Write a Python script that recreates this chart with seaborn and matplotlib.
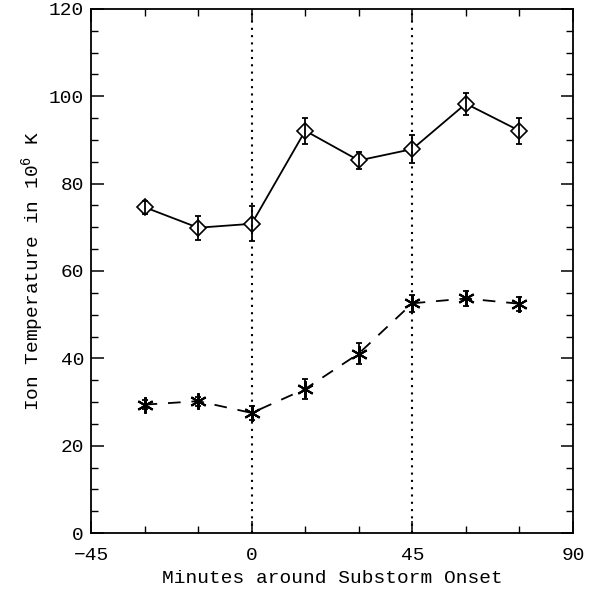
import matplotlib
matplotlib.use("Agg")
import matplotlib.pyplot as plt
from matplotlib.ticker import MultipleLocator
import seaborn as sns
import pandas as pd

minutes = [-30, -15, 0, 15, 30, 45, 60, 75]
upper_temp = [74.6, 69.9, 70.8, 92.1, 85.3, 87.9, 98.3, 92.1]
upper_err = [1.5, 2.7, 4.0, 3.0, 2.0, 3.2, 2.5, 3.0]
lower_temp = [29.4, 30.2, 27.5, 33.0, 41.1, 52.6, 53.7, 52.5]
lower_err = [1.0, 1.0, 1.5, 2.2, 2.4, 1.9, 1.7, 1.6]
onset_lines = [0, 45]
x_ticks = [-45, 0, 45, 90]
x_ticklabels = ["\u221245", "0", "45", "90"]

sns.set_theme(style="ticks")
plt.rcParams['font.family'] = ['Liberation Mono', 'DejaVu Sans']
plt.rcParams['mathtext.fontset'] = 'custom'
plt.rcParams['mathtext.rm'] = 'Liberation Mono'

fig = plt.figure(figsize=(5.95, 5.91), dpi=100)
ax = fig.add_axes([0.153, 0.098, 0.810, 0.887])

df_u = pd.DataFrame({"x": minutes, "y": upper_temp})
df_l = pd.DataFrame({"x": minutes, "y": lower_temp})

sns.lineplot(data=df_u, x="x", y="y", ax=ax, color="black", linewidth=1.3,
             marker="D", markersize=8, markerfacecolor="white",
             markeredgecolor="black", markeredgewidth=1.2)
sns.lineplot(data=df_l, x="x", y="y", ax=ax, color="black", linewidth=1.3,
             linestyle=(0, (7, 6)), marker=(6, 2, 0), markersize=12,
             markeredgecolor="black", markeredgewidth=1.5)

ax.errorbar(minutes, upper_temp, yerr=upper_err, fmt="none", ecolor="black",
            elinewidth=1.3, capsize=2.5, capthick=1.3)
ax.errorbar(minutes, lower_temp, yerr=lower_err, fmt="none", ecolor="black",
            elinewidth=1.3, capsize=2.5, capthick=1.3)

for xv in onset_lines:
    ax.axvline(xv, color="black", linestyle=(0, (1, 2.5)), linewidth=1.5)

ax.set_xlim(-45, 90)
ax.set_ylim(0, 120)
ax.set_xticks(x_ticks, x_ticklabels)
ax.xaxis.set_minor_locator(MultipleLocator(15))
ax.yaxis.set_major_locator(MultipleLocator(20))
ax.yaxis.set_minor_locator(MultipleLocator(5))
ax.tick_params(which="both", direction="in", top=True, right=True,
               colors="black", labelsize=14)
ax.tick_params(which="major", length=9, width=1.1)
ax.tick_params(axis="x", which="major", pad=10)
ax.tick_params(axis="y", which="major", pad=5)
ax.tick_params(which="minor", length=5, width=1.0)
for s in ax.spines.values():
    s.set_color("black")
    s.set_linewidth(1.3)

ax.set_xlabel("Minutes around Substorm Onset", fontsize=14, color="black",
              labelpad=4)
ax.set_ylabel("Ion Temperature in 10$^{6}$ K", fontsize=14, color="black",
              labelpad=1)
ax.grid(False)

fig.savefig("out.png", dpi=100)
